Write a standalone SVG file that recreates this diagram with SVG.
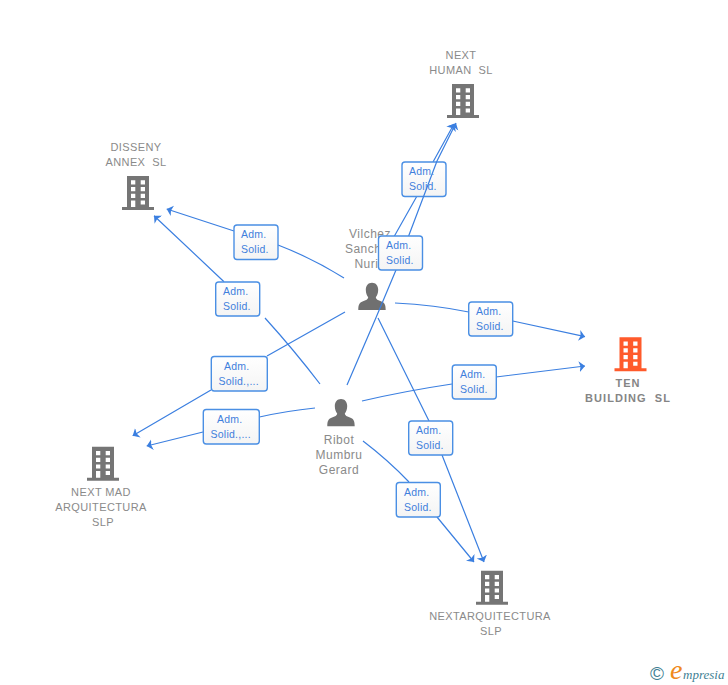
<svg xmlns="http://www.w3.org/2000/svg" width="728" height="685" viewBox="0 0 728 685">
<style>
.n{font-family:"Liberation Sans",Arial,sans-serif;font-size:11px;fill:#8a8a8a;text-anchor:middle;letter-spacing:.4px}
.p{font-size:12px;letter-spacing:.5px}
.b{font-weight:bold;fill:#858585;letter-spacing:1.05px}
.c{fill:none;stroke:#3b7fe0;stroke-width:1.2;}
.a{marker-end:url(#arrow)}
.l rect{fill:url(#lg);stroke:#4a8fe4;stroke-width:1.4}
.l text{font-family:"Liberation Sans",Arial,sans-serif;font-size:10.5px;fill:#3f7fdc;letter-spacing:.25px}
</style>
<defs>
<linearGradient id="lg" x1="0" y1="0" x2="0" y2="1"><stop offset="0" stop-color="#fff"/><stop offset="1" stop-color="#f4f4f4"/></linearGradient>
<marker id="arrow" markerUnits="userSpaceOnUse" markerWidth="8" markerHeight="12" refX="6" refY="5.500" orient="auto" viewBox="0 0 8 11"><path d="M0,0 L6,5.500 L0,11 L1.500,5.500 Z" fill="#3b7fe0"/></marker>
<path id="bld" fill-rule="evenodd" d="M-11,0H11V31H16V34H-16V31H-11ZM-7,4.300V8.500H-2.700V4.300ZM2.700,4.300V8.500H7V4.300ZM-7,11V15.200H-2.700V11ZM2.700,11V15.200H7V11ZM-7,17.700V21.900H-2.700V17.700ZM2.700,17.700V21.900H7V17.700ZM-7,24.400V31H-2.700V24.400ZM2.700,24.400V28.400H7V24.400Z"/>
<path id="per" d="M0,0C3.800,0 6.200,2.800 6.200,7C6.200,10.500 5,13 3.800,14.500C3.800,16.500 6,17.500 9.500,18.800C12.500,20 13.700,22 13.700,27.300H-13.700C-13.700,22 -12.500,20 -9.500,18.800C-6,17.500 -3.800,16.500 -3.800,14.500C-5,13 -6.200,10.500 -6.200,7C-6.200,2.800 -3.800,0 0,0Z"/>
</defs>
<g id="node-next-human">
<text class="n" x="461" y="59">NEXT</text><text class="n" x="461" y="74">HUMAN&#160;&#160;SL</text>
<use href="#bld" x="463" y="84" fill="#757575"/>
</g>
<g id="node-disseny">
<text class="n" x="136" y="151">DISSENY</text><text class="n" x="136" y="166">ANNEX&#160;&#160;SL</text>
<use href="#bld" x="138" y="176" fill="#757575"/>
</g>
<g id="node-next-mad">
<use href="#bld" x="103" y="446.700" fill="#757575"/>
<text class="n" x="101" y="496">NEXT MAD</text><text class="n" x="101" y="511">ARQUITECTURA</text><text class="n" x="103" y="526">SLP</text>
</g>
<g id="node-nextarq">
<use href="#bld" x="492" y="570.700" fill="#757575"/>
<text class="n" x="490" y="620">NEXTARQUITECTURA</text><text class="n" x="491" y="635">SLP</text>
</g>
<g id="node-ten">
<use href="#bld" x="630.500" y="337.300" fill="#ff5a2b"/>
<text class="n b" x="628" y="387">TEN</text><text class="n b" x="628" y="402">BUILDING&#160;&#160;SL</text>
</g>
<g id="node-vilchez">
<text class="n p" x="370" y="238">Vilchez</text><text class="n p" x="370" y="253">Sanchez</text><text class="n p" x="370" y="268">Nuria</text>
<use href="#per" x="372" y="282.700" fill="#707070"/>
</g>
<g id="node-ribot">
<use href="#per" x="341" y="399" fill="#707070"/>
<text class="n p" x="339" y="444">Ribot</text><text class="n p" x="339" y="459">Mumbru</text><text class="n p" x="339" y="474">Gerard</text>
</g>
<g id="connectors">
<path class="c a" d="M386.500,250L417,196M433,162L454,124"/>
<g class="l"><rect x="402" y="162" width="44" height="34.500" rx="3"/><text x="409" y="175">Adm.</text><text x="409" y="190">Solid.</text></g>
<path class="c a" d="M347,385L375,320L396,270L409,235L437,161L456,123"/>
<path class="c a" d="M344,278Q312,258 278,245M234,231L166.700,209"/>
<path class="c a" d="M320,384Q294,350 265,318M224,281.700L154,215.700"/>
<path class="c a" d="M345,312L267,356M211,390L132.700,435.700"/>
<path class="c a" d="M315,408Q286,411 259.500,417M203,432L146.700,446"/>
<path class="c a" d="M395,303Q435,305 468.700,312M512.700,321L585,336.700"/>
<path class="c a" d="M362,401Q405,391 452,384M496,377L585,366"/>
<path class="c a" d="M378,318L429,421M442,455L484,562"/>
<path class="c a" d="M363,441Q388,460 409,482M437,517L474,562"/>
<g class="l"><rect x="378.500" y="236" width="44" height="34" rx="3"/><text x="386" y="249">Adm.</text><text x="386" y="264">Solid.</text></g>
<g class="l"><rect x="234" y="225" width="44" height="34.500" rx="3"/><text x="241" y="238">Adm.</text><text x="241" y="253">Solid.</text></g>
<g class="l"><rect x="215.700" y="282" width="44" height="34" rx="3"/><text x="223" y="295">Adm.</text><text x="223" y="310">Solid.</text></g>
<g class="l"><rect x="211.300" y="356.500" width="56" height="34.500" rx="3"/><text x="224" y="370">Adm.</text><text x="218.500" y="385">Solid.,...</text></g>
<g class="l"><rect x="203.300" y="409.500" width="56" height="34.500" rx="3"/><text x="217" y="423">Adm.</text><text x="210.500" y="438">Solid.,...</text></g>
<g class="l"><rect x="468.700" y="302" width="44" height="34" rx="3"/><text x="476" y="315">Adm.</text><text x="476" y="330">Solid.</text></g>
<g class="l"><rect x="452.300" y="365" width="44" height="34" rx="3"/><text x="460" y="378">Adm.</text><text x="460" y="393">Solid.</text></g>
<g class="l"><rect x="408.700" y="421" width="44" height="34" rx="3"/><text x="416" y="434">Adm.</text><text x="416" y="449">Solid.</text></g>
<g class="l"><rect x="396.300" y="482.500" width="44" height="34.500" rx="3"/><text x="404" y="496">Adm.</text><text x="404" y="511">Solid.</text></g>
</g>
<g id="logo">
<text x="650" y="680" font-family="'Liberation Sans',Arial,sans-serif" font-size="19" fill="#3f7f94">©</text>
<text x="670" y="679" font-family="'Liberation Serif',serif" font-style="italic" font-size="28" fill="#f08a1d">e</text>
<text x="683" y="679" font-family="'Liberation Serif',serif" font-style="italic" font-size="13" fill="#3f7f94">mpresia</text>
</g>
</svg>
